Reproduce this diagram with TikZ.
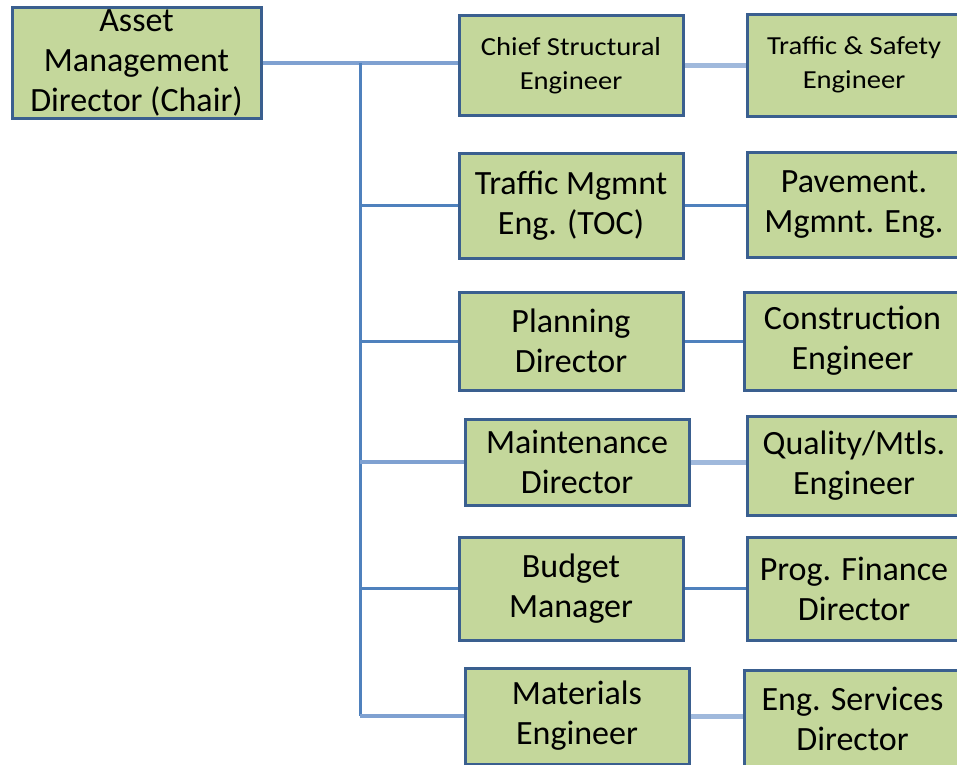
\documentclass[tikz,border=0pt]{standalone}
\usepackage{fontspec}
\setmainfont{Carlito}
\newfontfamily\smallboxfont[FakeStretch=1.1]{Carlito}
\usetikzlibrary{positioning}
\definecolor{boxfill}{HTML}{C4D79B}
\definecolor{boxline}{HTML}{3A5F8F}
\definecolor{linkblue}{HTML}{4F81BD}
\definecolor{linkmid}{HTML}{7FA1D1}
\definecolor{linksoft}{HTML}{A0B9DC}

\begin{document}
\begin{tikzpicture}[x=1pt, y=-1pt]
\tikzstyle{role} = [rectangle, draw=boxline, line width=3pt, fill=boxfill, align=center, inner sep=0pt, minimum width=224pt, font=\fontsize{34}{40}\selectfont]
\tikzstyle{smallrole} = [role, font=\smallboxfont\fontsize{26}{34}\selectfont]
\tikzstyle{link} = [draw=linkblue, line width=3pt]
\tikzstyle{midlink} = [draw=linkmid, line width=4.5pt]
\tikzstyle{softlink} = [draw=linksoft, line width=5pt]

\useasboundingbox (0,0) rectangle (957,764);
\clip (0,0) rectangle (957,764);

% chair
\node (Chair) [role, minimum width=249pt, minimum height=111pt] at (136.5,63) {Asset\\Management\\Director (Chair)};

% first column
\node (Chief) [smallrole, minimum height=100pt] at (571,65.5) {Chief Structural\\Engineer};
\node (TrafficMgmt) [role, minimum height=105pt] at (571,205.5) {Traffic Mgmnt\\Eng. (TOC)};
\node (Planning) [role, minimum height=98pt] at (571,341) {Planning\\Director};
\node (Maintenance) [role, minimum height=86pt] at (577,462) {Maintenance\\Director};
\node (Budget) [role, minimum height=103pt] at (571,588.5) {Budget\\Manager};
\node (Materials) [role, minimum height=96pt] at (577,716) {Materials\\Engineer};

% second column
\node (Safety) [smallrole, minimum width=214pt, minimum height=102pt] at (854,65) {Traffic \& Safety\\Engineer};
\node (Pavement) [role, minimum width=214pt, minimum height=105pt] at (854,204.5) {Pavement.\\Mgmnt. Eng.};
\node (Construction) [role, minimum width=217pt, minimum height=98pt] at (852.5,341) {Construction\\Engineer};
\node (Quality) [role, minimum width=214pt, minimum height=99pt] at (854,465.5) {Quality/Mtls.\\Engineer};
\node (Finance) [role, minimum width=214pt, minimum height=103pt] at (854,588.5) {Prog. Finance\\Director};
\node (Services) [role, minimum width=217pt, minimum height=98pt] at (852.5,719) {Eng. Services\\Director};

% trunk and branches
\coordinate (trunk) at (360,0);
\draw [midlink] (Chair.east) -- (Chair.east -| Chief.west);
\draw [link] (trunk |- Chair.east) -- (trunk |- Materials.west);
\draw [link] (trunk |- TrafficMgmt.west) -- (TrafficMgmt.west);
\draw [link] (trunk |- Planning.west) -- (Planning.west);
\draw [midlink] (trunk |- Maintenance.west) -- (Maintenance.west);
\draw [link] (trunk |- Budget.west) -- (Budget.west);
\draw [midlink] (trunk |- Materials.west) -- (Materials.west);

% column to column
\draw [softlink] (Chief.east) -- (Chief.east -| Safety.west);
\draw [link] (TrafficMgmt.east) -- (TrafficMgmt.east -| Pavement.west);
\draw [link] (Planning.east) -- (Planning.east -| Construction.west);
\draw [softlink] (Maintenance.east) -- (Maintenance.east -| Quality.west);
\draw [link] (Budget.east) -- (Budget.east -| Finance.west);
\draw [softlink] (Materials.east) -- (Materials.east -| Services.west);
\end{tikzpicture}
\end{document}
